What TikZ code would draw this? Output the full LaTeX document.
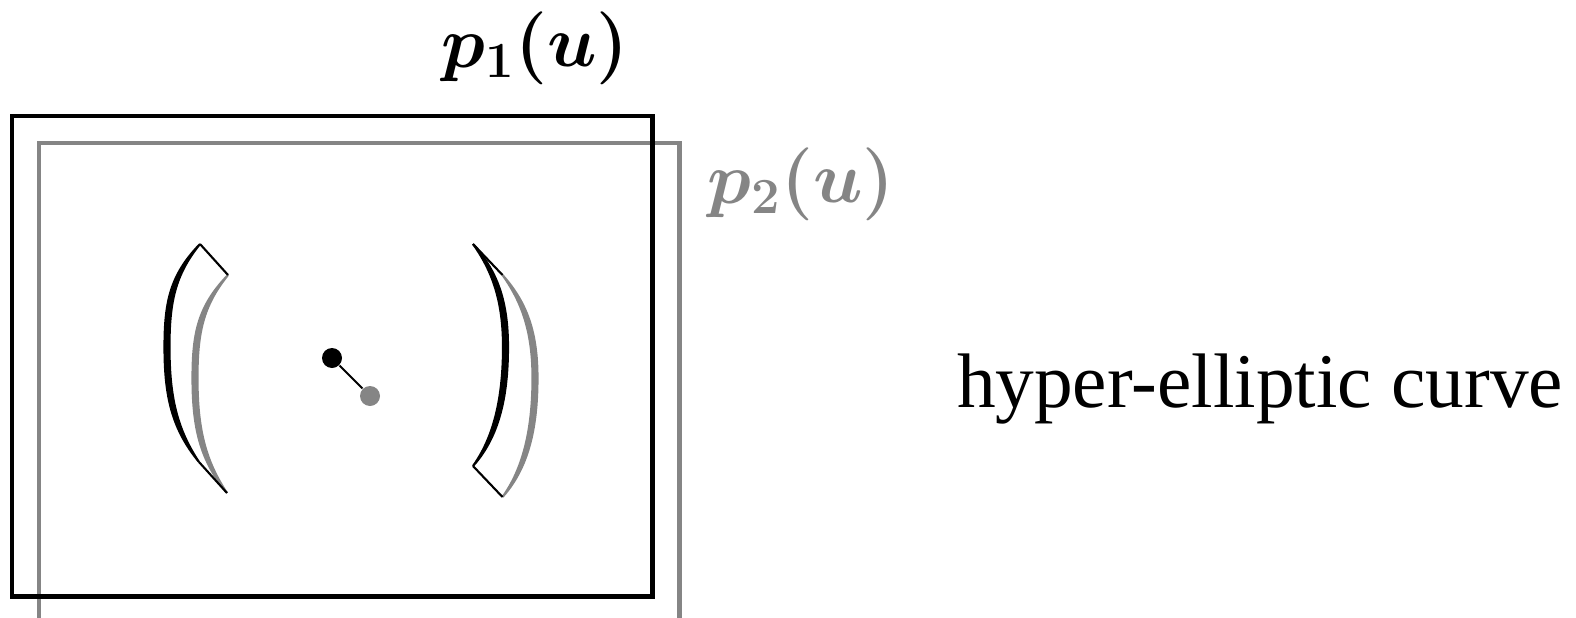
\documentclass[tikz,border=0pt]{standalone}
\usepackage{bm}
\usepackage{fontspec}
\setmainfont{Liberation Serif}
\usepackage{xcolor}
\usepackage{tikz}
\definecolor{shiftgray}{RGB}{133, 133, 133}
\usetikzlibrary{positioning, calc}

% tapered bracket outlines
\newcommand{\leftbracket}{(2.00, 3.73) .. controls (1.70, 3.42) and (1.645, 3.15) .. (1.645, 2.70)
    .. controls (1.645, 2.20) and (1.72, 1.88) .. (1.99, 1.55)
    .. controls (1.77, 1.88) and (1.695, 2.20) .. (1.695, 2.70)
    .. controls (1.695, 3.15) and (1.75, 3.42) .. cycle}
\newcommand{\rightbracket}{(4.73, 3.73) .. controls (4.98, 3.45) and (5.08, 3.15) .. (5.08, 2.70)
    .. controls (5.08, 2.20) and (4.99, 1.80) .. (4.73, 1.51)
    .. controls (4.94, 1.80) and (5.03, 2.20) .. (5.03, 2.70)
    .. controls (5.03, 3.15) and (4.93, 3.45) .. cycle}

\begin{document}
\begin{tikzpicture}[
    frame/.style={draw, line width=1.42pt},
    arc/.style={line width=0.6pt},
    link/.style={draw=black, line width=0.6pt},
    dot/.style={circle, fill, inner sep=0pt, minimum size=0.2cm},
    label/.style={anchor=base, font=\fontsize{20.74}{25}\selectfont}
]
    \useasboundingbox (0, 0) rectangle (15.76, 6.17);

    % the two frames
    \draw[frame, shiftgray] (0.39, -0.06) rectangle (6.79, 4.74);
    \draw[frame, black] (0.12, 0.21) rectangle (6.52, 5.01);

    \node[label] (pone) at (5.35, 5.50) {$\bm{p_1(u)}$};
    \node[label, text=shiftgray] (ptwo) at (8.01, 4.14) {$\bm{p_2(u)}$};

    % shifted copy
    \begin{scope}[shift={(0.28, -0.31)}]
        \filldraw[arc, shiftgray] \leftbracket;
        \coordinate (lt2) at (2.00, 3.73);
        \coordinate (lb2) at (1.99, 1.55);
    \end{scope}
    \begin{scope}[shift={(0.295, -0.31)}]
        \filldraw[arc, shiftgray] \rightbracket;
        \coordinate (rt2) at (4.73, 3.73);
        \coordinate (rb2) at (4.73, 1.51);
    \end{scope}

    % original curve
    \filldraw[arc, black] \leftbracket;
    \filldraw[arc, black] \rightbracket;
    \coordinate (lt1) at (2.00, 3.73);
    \coordinate (lb1) at (1.99, 1.55);
    \coordinate (rt1) at (4.73, 3.73);
    \coordinate (rb1) at (4.73, 1.51);

    \draw[link] (lt1) -- (lt2);
    \draw[link] (lb1) -- (lb2);
    \draw[link] (rt1) -- (rt2);
    \draw[link] (rb1) -- (rb2);

    \node[dot, fill=shiftgray] (q2) at (3.70, 2.21) {};
    \node[dot, fill=black] (q1) at (3.32, 2.59) {};
    \draw[link] (q1) -- (q2);

    \node[anchor=base, font=\fontsize{22}{26}\selectfont] (curve) at (12.60, 2.10) {hyper-elliptic curve};
\end{tikzpicture}
\end{document}
